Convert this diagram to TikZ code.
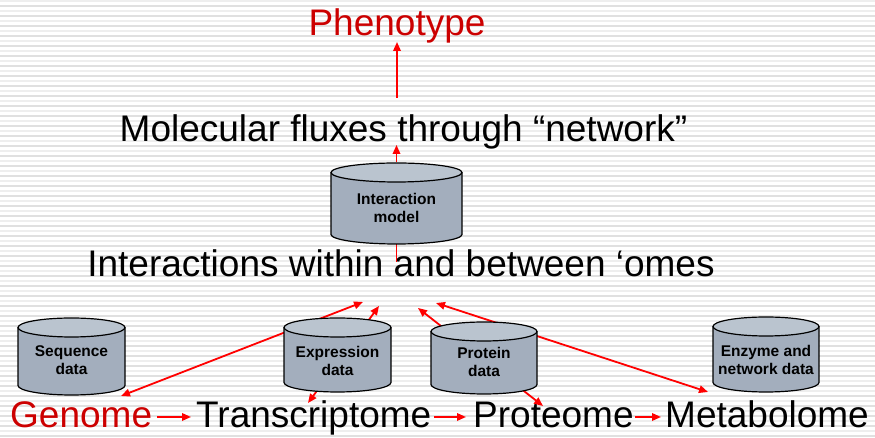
\documentclass[tikz,border=0pt]{standalone}
\usepackage{fontspec}
\setmainfont{Liberation Sans}
\usetikzlibrary{arrows.meta}
\definecolor{phenored}{RGB}{204,0,0}
\definecolor{cylbodyc}{RGB}{163,174,189}
\definecolor{cyltopc}{RGB}{186,196,207}
\definecolor{stripeA}{RGB}{224,224,224}
\definecolor{stripeB}{RGB}{238,238,238}

% database cylinder: name, centre x, half width, top y, bottom y, label y, label
\newcommand\dbcylinder[7]{%
  \fill[cylbodyc] ({#2-#3},#4) -- ({#2-#3},#5)
     arc[start angle=180,end angle=360,x radius=#3,y radius=9.5] -- ({#2+#3},#4) -- cycle;
  \fill[cyltopc] (#2,#4) ellipse[x radius=#3,y radius=9.5];
  \draw[cyledge] ({#2-#3},#4) -- ({#2-#3},#5)
     arc[start angle=180,end angle=360,x radius=#3,y radius=9.5] -- ({#2+#3},#4);
  \draw[cyledge] (#2,#4) ellipse[x radius=#3,y radius=9.5];
  \node[cyllabel] (#1) at (#2,#6) {#7};
}

\begin{document}
\begin{tikzpicture}[x=1pt,y=1pt,
  tip/.tip={Triangle[length=9pt,width=7.5pt]},
  link/.style={red, line width=1.8pt, -tip},
  twoway/.style={red, line width=1.8pt, tip-tip},
  plainlink/.style={red, line width=1.8pt},
  bigtext/.style={font=\fontsize{37}{44}\selectfont, inner sep=0pt},
  cyledge/.style={black, line width=1.2pt},
  cyllabel/.style={font=\fontsize{15.5}{18}\selectfont\bfseries, align=center, inner sep=0pt}]

% striped backdrop
\useasboundingbox (0,0) rectangle (875,438);
\fill[white] (0,0) rectangle (875,438);
\foreach \yy in {2,12,...,432} \draw[stripeA, line width=1.6pt] (0,\yy) -- (875,\yy);
\foreach \yy in {7,17,...,437} \draw[stripeB, line width=1.6pt] (0,\yy) -- (875,\yy);

% headings
\node[bigtext, text=phenored, anchor=base] (pheno) at (397,402) {Phenotype};
\node[bigtext, anchor=base] (flux) at (403.5,296) {Molecular fluxes through “network”};
\node[bigtext, anchor=base] (inter) at (401,161) {Interactions within and between ‘omes};

% the 'omes row
\node[bigtext, text=phenored, anchor=base west] (genome) at (10,10) {Genome};
\node[bigtext, anchor=base west] (transcr) at (196,10) {Transcriptome};
\node[bigtext, anchor=base west] (proteome) at (473,10) {Proteome};
\node[bigtext, anchor=base west] (metab) at (665,10) {Metabolome};

% free ends of the connectors
\coordinate (phenoFoot) at (397,340);
\coordinate (phenoTip) at (397,396);
\coordinate (fluxFoot) at (396.5,276);
\coordinate (fluxTip) at (396.5,293);
\coordinate (interTop) at (396.5,200);
\coordinate (interBase) at (396.5,176);
\coordinate (ia) at (363,136);
\coordinate (ga) at (121,42);
\coordinate (ib) at (379,132);
\coordinate (tb) at (308,35);
\coordinate (ic) at (418,130);
\coordinate (pc) at (543,32);
\coordinate (id) at (436,135);
\coordinate (md) at (708,46);
\coordinate (g1) at (157,21);  \coordinate (t1) at (191,21);
\coordinate (t2) at (434,21);  \coordinate (p2) at (466,21);
\coordinate (p3) at (635,21);  \coordinate (m3) at (661,21);

% connectors (drawn under the cylinders)
\draw[link] (phenoFoot) -- (phenoTip);
\draw[link] (fluxFoot) -- (fluxTip);
\draw[plainlink] (interBase) -- (interTop);
\draw[twoway] (ia) -- (ga);
\draw[twoway] (ib) -- (tb);
\draw[twoway] (ic) -- (pc);
\draw[twoway] (id) -- (md);
\draw[link] (g1) -- (t1);
\draw[link] (t2) -- (p2);
\draw[link] (p3) -- (m3);

% data stores
\dbcylinder{model}{396.5}{65.5}{265.5}{203.5}{230}{Interaction\\model}
\dbcylinder{seq}{71.5}{53.5}{110.5}{52.5}{78}{Sequence\\data}
\dbcylinder{expr}{337.5}{53.5}{110.5}{55.5}{77}{Expression\\data}
\dbcylinder{prot}{484}{53}{106.5}{53.5}{76}{Protein\\data}
\dbcylinder{enz}{766}{53}{111.5}{55.5}{78}{Enzyme and\\network data}
\end{tikzpicture}
\end{document}
